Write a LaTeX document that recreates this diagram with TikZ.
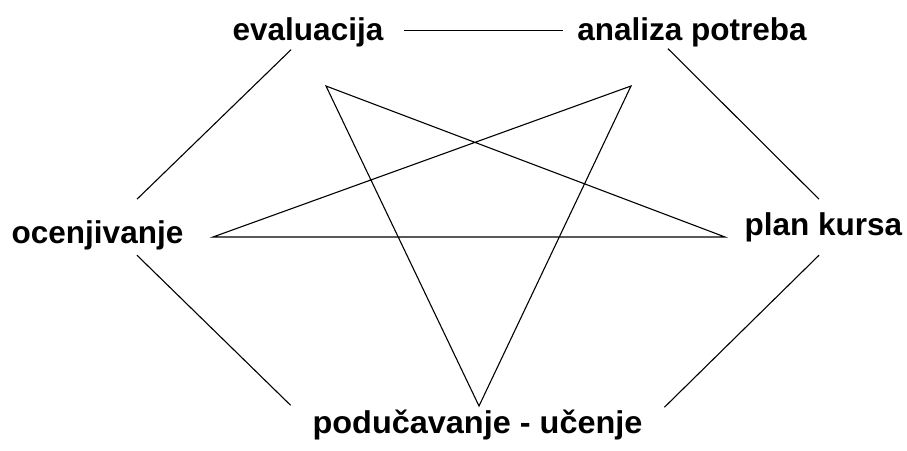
\documentclass[tikz,border=0pt]{standalone}
\usepackage{fontspec}
\setmainfont{Liberation Sans}
\usepackage{tikz}
\usetikzlibrary{positioning}

\begin{document}
\begin{tikzpicture}[x=1pt,y=-1pt,
    stage/.style={anchor=base,inner sep=0pt,
      font=\bfseries\fontsize{31.5}{36}\selectfont},
    link/.style={line width=1.1pt,black}]
    \useasboundingbox (0,0) rectangle (907,450);
    % ciklus
    \node[stage] (eval)    at (308,40.5)  {evaluacija};
    \node[stage] (analiza) at (692,40.5)  {analiza potreba};
    \node[stage] (ocen)    at (97.5,243)  {ocenjivanje};
    \node[stage] (plan)    at (823.5,235) {plan kursa};
    \node[stage,xscale=1.03] (podu) at (477.5,433) {podu\v{c}avanje - u\v{c}enje};
    \draw[link] ([xshift=20pt,yshift=1.5pt]eval.east)
      -- ([xshift=-14pt,yshift=1.5pt]analiza.west);
    \draw[link] ([xshift=-24pt,yshift=-1.5pt]analiza.south)
      -- ([xshift=-4.5pt,yshift=12.8pt]plan.north);
    \draw[link] ([xshift=-4.5pt,yshift=-13.5pt]plan.south)
      -- ([xshift=21.7pt,yshift=2pt]podu.north east);
    \draw[link] ([xshift=39.5pt,yshift=-5.5pt]ocen.south)
      -- ([xshift=-21.7pt,yshift=4pt]podu.north west);
    \draw[link] ([xshift=39.5pt,yshift=20.8pt]ocen.north)
      -- ([xshift=-17pt,yshift=-2.5pt]eval.south);
    % zvezda
    \coordinate (s1) at (326,86);
    \coordinate (s2) at (631,86);
    \coordinate (s3) at (725,237);
    \coordinate (s4) at (479,406);
    \coordinate (s5) at (213,237);
    \draw[link,line join=miter] (s1) -- (s3) -- (s5) -- (s2) -- (s4) -- cycle;
  \end{tikzpicture}
\end{document}
